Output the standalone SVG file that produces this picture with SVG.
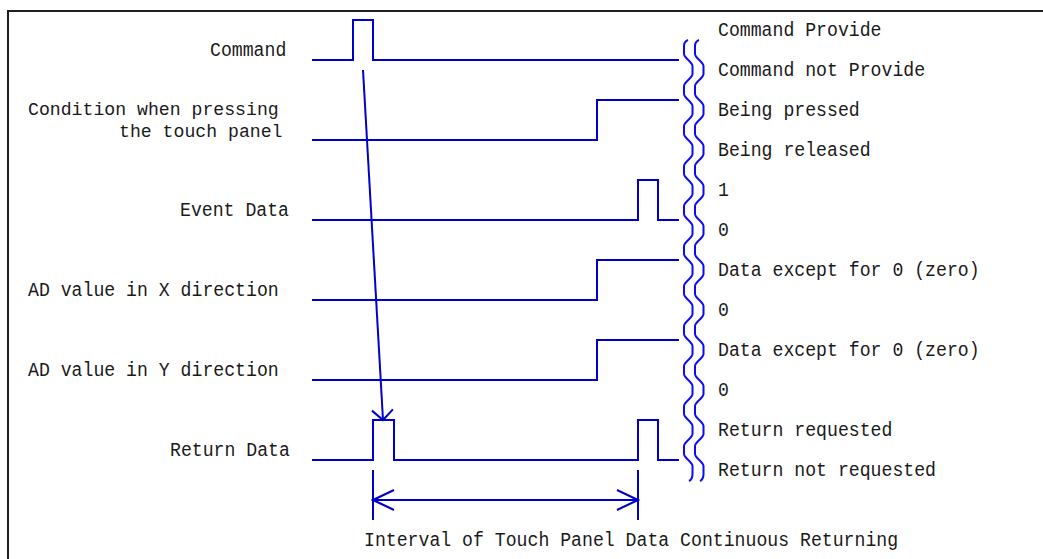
<svg xmlns="http://www.w3.org/2000/svg" width="1043" height="559" viewBox="0 0 1043 559">
  <style>
    .frame { fill: #ffffff; stroke: #1e1e1e; stroke-width: 2; }
    .sig { fill: none; stroke: #0000cc; stroke-width: 2; stroke-linejoin: miter; }
    .wave { fill: none; stroke: #0a0aff; stroke-width: 2; }
    .conn { fill: none; stroke: #0000cc; stroke-width: 2; }
    .lbl { font-family: "Liberation Mono", "DejaVu Sans Mono", monospace; font-size: 20px; fill: #1a1a1a; }
    .lbl.tight { font-size: 18px; }
  </style>
  <defs>
    <marker id="tip" viewBox="-12 -12 14 24" markerWidth="14" markerHeight="24" refX="0" refY="0" orient="auto" markerUnits="userSpaceOnUse">
      <path d="M-10,-10.5 L0,0 L-10,10.5" fill="none" stroke="#0000cc" stroke-width="2"/>
    </marker>
    <marker id="dim" viewBox="-23 -12 25 24" markerWidth="25" markerHeight="24" refX="0" refY="0" orient="auto-start-reverse" markerUnits="userSpaceOnUse">
      <path d="M-21,-10 L0,0 L-21,10" fill="none" stroke="#0000cc" stroke-width="2"/>
    </marker>
    <path id="brk" d="M688,40 c-2.5,1 -4,3 -4,6 v8
      c0,4 8.5,8 8.5,12 v8 c0,4 -8.5,8 -8.5,12 v8
      c0,4 8.5,8 8.5,12 v8 c0,4 -8.5,8 -8.5,12 v8
      c0,4 8.5,8 8.5,12 v8 c0,4 -8.5,8 -8.5,12 v8
      c0,4 8.5,8 8.5,12 v8 c0,4 -8.5,8 -8.5,12 v8
      c0,4 8.5,8 8.5,12 v8 c0,4 -8.5,8 -8.5,12 v8
      c0,4 8.5,8 8.5,12 v8 c0,4 -8.5,8 -8.5,12 v8
      c0,4 8.5,8 8.5,12 v8 c0,4 -8.5,8 -8.5,12 v8
      c0,4 8.5,8 8.5,12 v8 c0,4 -8.5,8 -8.5,12 v8
      c0,4 8.5,8 8.5,12 v8 c0,4 -8.5,8 -8.5,12 v8
      c0,4 8.5,8 8.5,12 v8 c0,4 -8.5,8 -8.5,12 v8
      c0,4 8.5,8 8.5,12 v8 c0,3 -1.5,6 -3.5,7"/>
  </defs>

  <!-- outer frame (runs past the right and bottom edges) -->
  <rect class="frame" x="8" y="11" width="1100" height="600"/>

  <!-- signal rows -->
  <g id="command">
    <text class="lbl" x="210" y="56" textLength="76.3" lengthAdjust="spacingAndGlyphs">Command</text>
    <path class="sig" d="M312,60 H353 V20 H373 V60 H679"/>
    <text class="lbl" x="718" y="36" textLength="163.5" lengthAdjust="spacingAndGlyphs">Command Provide</text>
    <text class="lbl" x="718" y="76" textLength="207.1" lengthAdjust="spacingAndGlyphs">Command not Provide</text>
  </g>

  <g id="condition">
    <text class="lbl tight" x="28" y="115" textLength="250.7" lengthAdjust="spacingAndGlyphs">Condition when pressing</text>
    <text class="lbl tight" x="119" y="137" textLength="163.5" lengthAdjust="spacingAndGlyphs">the touch panel</text>
    <path class="sig" d="M312,140 H597 V100 H679"/>
    <text class="lbl" x="718" y="116" textLength="141.7" lengthAdjust="spacingAndGlyphs">Being pressed</text>
    <text class="lbl" x="718" y="156" textLength="152.6" lengthAdjust="spacingAndGlyphs">Being released</text>
  </g>

  <g id="event-data">
    <text class="lbl" x="180" y="216" textLength="109" lengthAdjust="spacingAndGlyphs">Event Data</text>
    <path class="sig" d="M312,220 H638 V180 H658 V220 H679"/>
    <text class="lbl" x="718" y="196" textLength="10.9" lengthAdjust="spacingAndGlyphs">1</text>
    <text class="lbl" x="718" y="236" textLength="10.9" lengthAdjust="spacingAndGlyphs">0</text>
  </g>

  <g id="ad-x">
    <text class="lbl" x="28" y="296" textLength="250.7" lengthAdjust="spacingAndGlyphs">AD value in X direction</text>
    <path class="sig" d="M312,300 H597 V260 H679"/>
    <text class="lbl" x="718" y="276" textLength="261.6" lengthAdjust="spacingAndGlyphs">Data except for 0 (zero)</text>
    <text class="lbl" x="718" y="316" textLength="10.9" lengthAdjust="spacingAndGlyphs">0</text>
  </g>

  <g id="ad-y">
    <text class="lbl" x="28" y="376" textLength="250.7" lengthAdjust="spacingAndGlyphs">AD value in Y direction</text>
    <path class="sig" d="M312,380 H597 V340 H679"/>
    <text class="lbl" x="718" y="356" textLength="261.6" lengthAdjust="spacingAndGlyphs">Data except for 0 (zero)</text>
    <text class="lbl" x="718" y="396" textLength="10.9" lengthAdjust="spacingAndGlyphs">0</text>
  </g>

  <g id="return-data">
    <text class="lbl" x="170" y="456" textLength="119.9" lengthAdjust="spacingAndGlyphs">Return Data</text>
    <path class="sig" d="M312,460 H373 V420 H394 V460 H638 V420 H658 V460 H679"/>
    <text class="lbl" x="718" y="436" textLength="174.4" lengthAdjust="spacingAndGlyphs">Return requested</text>
    <text class="lbl" x="718" y="476" textLength="218" lengthAdjust="spacingAndGlyphs">Return not requested</text>
  </g>

  <!-- time-axis break marks -->
  <g id="break">
    <use href="#brk" class="wave"/>
    <use href="#brk" class="wave" transform="translate(11,0)"/>
  </g>

  <!-- connectors -->
  <g id="connectors">
    <line class="conn" x1="363" y1="70" x2="383" y2="420" marker-end="url(#tip)"/>
    <path class="conn" d="M373,470 V520 M638,470 V520"/>
    <line class="conn" x1="373" y1="500" x2="638" y2="500" marker-start="url(#dim)" marker-end="url(#dim)"/>
    <text class="lbl" x="364" y="546" textLength="534.1" lengthAdjust="spacingAndGlyphs">Interval of Touch Panel Data Continuous Returning</text>
  </g>
</svg>
